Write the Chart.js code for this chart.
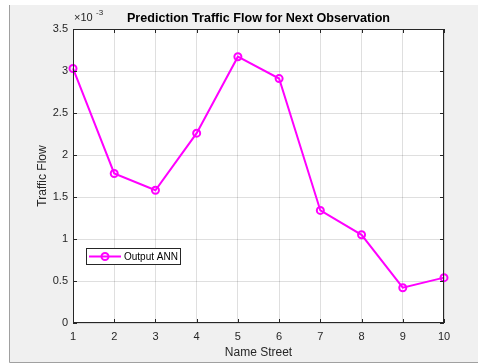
<!DOCTYPE html>
<html>
<head>
<meta charset="utf-8">
<script src="https://cdn.jsdelivr.net/npm/chart.js@4"></script>
<style>
  html, body { margin: 0; padding: 0; background: #fff; }
  #wrap { width: 478px; height: 364px; }
</style>
</head>
<body>
<div id="wrap"><canvas id="canvas" width="478" height="364"></canvas></div>
<script>
var streets = ["1", "2", "3", "4", "5", "6", "7", "8", "9", "10"];
var annOut = [0.00303, 0.00178, 0.00158, 0.00226, 0.00317, 0.00291, 0.00134, 0.00105, 0.00042, 0.00054];
var yTicks = ["0", "0.5", "1", "1.5", "2", "2.5", "3", "3.5"];
var chartTitle = "Prediction Traffic Flow for Next Observation";
var seriesName = "Output ANN";

var FONT = "'Liberation Sans', Arial, sans-serif";
var MAG = "#ff00ff";
var INK = "#262626";

// figure background, box, inner ticks, legend, title
var matlabLook = {
    id: "matlabLook",
    beforeDraw: function(chart) {
        var c = chart.ctx, a = chart.chartArea;
        c.save();
        c.fillStyle = "#ffffff";
        c.fillRect(0, 0, chart.width, chart.height);
        c.fillStyle = "#f0f0f0";
        c.fillRect(10, 5, chart.width - 10, 357);
        c.strokeStyle = "#a0a0a0";
        c.lineWidth = 1;
        c.beginPath();
        c.moveTo(9.5, 5); c.lineTo(9.5, 362.5); c.lineTo(chart.width, 362.5);
        c.stroke();
        c.fillStyle = "#ffffff";
        c.fillRect(a.left, a.top, a.right - a.left, a.bottom - a.top);
        c.restore();
    },
    afterDatasetsDraw: function(chart) {
        var c = chart.ctx, a = chart.chartArea;
        var xs = chart.scales.x, ys = chart.scales.y;
        c.save();
        // axes box
        c.strokeStyle = INK;
        c.lineWidth = 1;
        c.strokeRect(Math.round(a.left) + 0.5, Math.round(a.top) + 0.5,
                     Math.round(a.right - a.left) - 1, Math.round(a.bottom - a.top) - 1);
        // inward ticks
        c.beginPath();
        for (var i = 0; i < streets.length; i++) {
            var px = Math.round(xs.getPixelForValue(i)) + 0.5;
            c.moveTo(px, a.bottom); c.lineTo(px, a.bottom - 4);
            c.moveTo(px, a.top); c.lineTo(px, a.top + 4);
        }
        for (var j = 0; j < yTicks.length; j++) {
            var py = Math.round(ys.getPixelForValue(j * 0.0005)) + 0.5;
            c.moveTo(a.left, py); c.lineTo(a.left + 4, py);
            c.moveTo(a.right, py); c.lineTo(a.right - 4, py);
        }
        c.stroke();

        // legend box
        var lx = a.left + 13, ly = 248;
        c.fillStyle = "#ffffff";
        c.fillRect(lx, ly, 94, 16);
        c.strokeStyle = INK;
        c.strokeRect(lx + 0.5, ly + 0.5, 94, 16);
        var ds = chart.data.datasets[0];
        c.strokeStyle = ds.borderColor;
        c.lineWidth = ds.borderWidth;
        c.beginPath();
        c.moveTo(lx + 3, ly + 8.5); c.lineTo(lx + 35, ly + 8.5);
        c.stroke();
        c.beginPath();
        c.arc(lx + 19, ly + 8.5, 3.5, 0, Math.PI * 2);
        c.stroke();
        c.fillStyle = "#000000";
        c.font = "10px " + FONT;
        c.textBaseline = "middle";
        c.textAlign = "left";
        c.fillText(ds.label, lx + 38, ly + 9);

        // title
        c.font = "bold 12.6px " + FONT;
        c.textAlign = "center";
        c.fillStyle = "#000000";
        c.fillText(chartTitle, (a.left + a.right) / 2, 19);

        // exponent label
        c.fillStyle = INK;
        c.textAlign = "left";
        c.font = "11px " + FONT;
        c.fillText("\u00d710", a.left + 1, 18);
        c.font = "8px " + FONT;
        c.fillText("-3", a.left + 23, 13);
        c.restore();
    }
};

var ctx = document.getElementById("canvas").getContext("2d");
var myChart = new Chart(ctx, {
    type: "line",
    data: {
        labels: streets,
        datasets: [{
            label: seriesName,
            data: annOut,
            borderColor: MAG,
            borderWidth: 2,
            backgroundColor: "rgba(0,0,0,0)",
            pointStyle: "circle",
            pointRadius: 3.5,
            pointBorderWidth: 2,
            pointBackgroundColor: "rgba(0,0,0,0)",
            pointBorderColor: MAG,
            tension: 0,
            fill: false
        }]
    },
    options: {
        responsive: false,
        animation: false,
        devicePixelRatio: 1,
        layout: { padding: { left: 10, right: 34, top: 29, bottom: 0 } },
        plugins: {
            legend: { display: false },
            title: { display: false },
            tooltip: { enabled: false }
        },
        scales: {
            x: {
                type: "category",
                offset: false,
                afterFit: function(s) { s.height = 41; },
                grid: { color: "rgba(38,38,38,0.15)", offset: false, drawTicks: false },
                border: { display: false },
                ticks: { color: INK, font: { family: FONT, size: 11 }, padding: 7, maxRotation: 0 },
                title: { display: true, text: "Name Street", color: INK, font: { family: FONT, size: 12 }, padding: { top: 0, bottom: 4 } }
            },
            y: {
                min: 0,
                max: 0.0035,
                afterFit: function(s) { s.width = 63; },
                grid: { color: "rgba(38,38,38,0.15)", drawTicks: false },
                border: { display: false },
                ticks: {
                    stepSize: 0.0005,
                    color: INK,
                    font: { family: FONT, size: 11 },
                    padding: 5,
                    callback: function(v) { return yTicks[Math.round(v / 0.0005)]; }
                },
                title: { display: true, text: "Traffic Flow", color: INK, font: { family: FONT, size: 12 }, padding: { top: 25, bottom: 0 } }
            }
        }
    },
    plugins: [matlabLook]
});
</script>
</body>
</html>
